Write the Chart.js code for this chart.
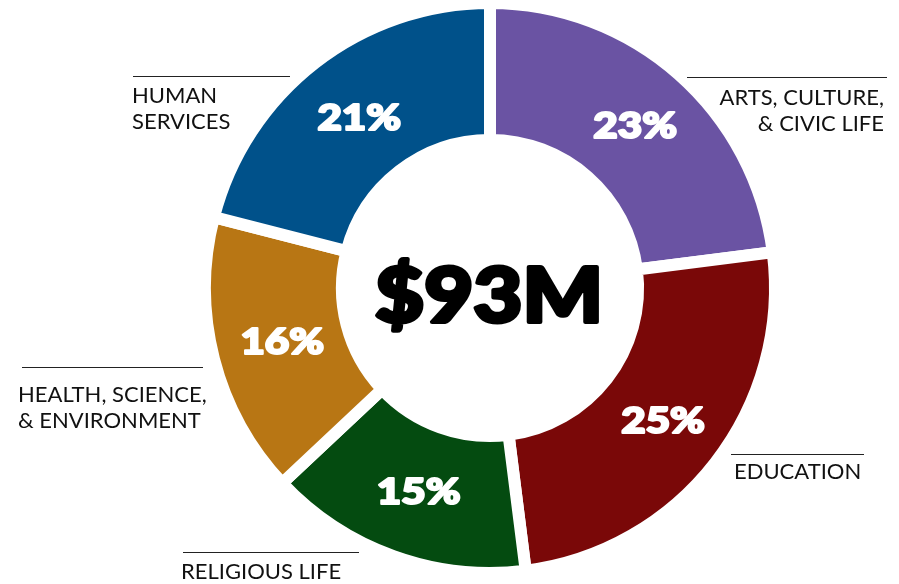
<!DOCTYPE html>
<html>
<head>
<meta charset="utf-8">
<script src="https://cdn.jsdelivr.net/npm/chart.js@4/dist/chart.umd.min.js"></script>
<style>
  html, body { margin: 0; padding: 0; background: #fff; }
  #wrap { width: 899px; height: 584px; position: relative; }
</style>
</head>
<body>
<div id="wrap"><canvas id="myChart"></canvas></div>
<script>
// data, clockwise from 12 o'clock
const categories = ['ARTS, CULTURE,\n& CIVIC LIFE', 'EDUCATION', 'RELIGIOUS LIFE', 'HEALTH, SCIENCE,\n& ENVIRONMENT', 'HUMAN\nSERVICES']
const shares = [23, 25, 15, 16, 21]
const totalLabel = '$93M'

const colors = ['#6a53a3', '#7a0808', '#044b10', '#b87614', '#00518a']

// where the category captions sit (line start/end, text anchor)
const captionLayout = [
  { x1: 687, x2: 887, ly: 77, tx: 884, ty: 105, align: 'right' },
  { x1: 731, x2: 864, ly: 454, tx: 734, ty: 479, align: 'left' },
  { x1: 183, x2: 359, ly: 552, tx: 181, ty: 579, align: 'left' },
  { x1: 22, x2: 203, ly: 367, tx: 18, ty: 402, align: 'left' },
  { x1: 133, x2: 290, ly: 76, tx: 132, ty: 103, align: 'left' },
]

window.onload = () => {
  const ctx = document.getElementById('myChart')

  // heavy text: scaled wide and thickened with a stroke of the same colour
  const heavyText = (c, txt, x, y, sx, thick) => {
    c.save()
    c.translate(x, y)
    c.scale(sx, 1)
    c.lineWidth = thick
    c.lineJoin = 'round'
    c.strokeText(txt, 0, 0)
    c.fillText(txt, 0, 0)
    c.restore()
  }

  const labelsPlugin = {
    id: 'labels',
    afterDatasetsDraw(chart) {
      const c = chart.ctx
      const arcs = chart.getDatasetMeta(0).data
      c.save()
      // percentages inside slices
      c.fillStyle = '#fff'
      c.strokeStyle = '#fff'
      c.textAlign = 'center'
      c.textBaseline = 'middle'
      c.font = '900 36px Lato, "DejaVu Sans", sans-serif'
      arcs.forEach((arc, i) => {
        const p = arc.tooltipPosition()
        heavyText(c, shares[i] + '%', p.x + 2, p.y + 1, 1.17, 2.2)
      })
      // total in the hole
      const cx = arcs[0].x, cy = arcs[0].y
      c.fillStyle = '#000'
      c.strokeStyle = '#000'
      c.font = '900 76px Lato, "DejaVu Sans", sans-serif'
      c.textBaseline = 'alphabetic'
      const w = c.measureText(totalLabel).width
      heavyText(c, totalLabel, cx - 1, cy + 34, 228 / w, 4)
      // captions
      c.fillStyle = '#111'
      c.strokeStyle = '#222'
      c.lineWidth = 1
      c.font = '400 22px Lato, "DejaVu Sans", sans-serif'
      categories.forEach((txt, i) => {
        const l = captionLayout[i]
        c.beginPath()
        c.moveTo(l.x1, l.ly + 0.5)
        c.lineTo(l.x2, l.ly + 0.5)
        c.stroke()
        c.textAlign = l.align
        txt.split('\n').forEach((line, k) => {
          c.fillText(line, l.tx, l.ty + k * 26)
        })
      })
      c.restore()
    }
  }

  new Chart(ctx, {
    type: 'doughnut',
    data: {
      labels: categories,
      datasets: [{
        data: shares,
        backgroundColor: colors,
        borderColor: '#fff',
        borderWidth: 12,
        borderJoinStyle: 'miter',
        hoverOffset: 0
      }]
    },
    options: {
      responsive: true,
      maintainAspectRatio: false,
      animation: false,
      radius: 285,
      cutout: 146,
      layout: { padding: { left: 81, right: 0, top: 1, bottom: 9 } },
      plugins: {
        legend: { display: false },
        tooltip: { enabled: false }
      }
    },
    plugins: [labelsPlugin]
  })
}
</script>
</body>
</html>
